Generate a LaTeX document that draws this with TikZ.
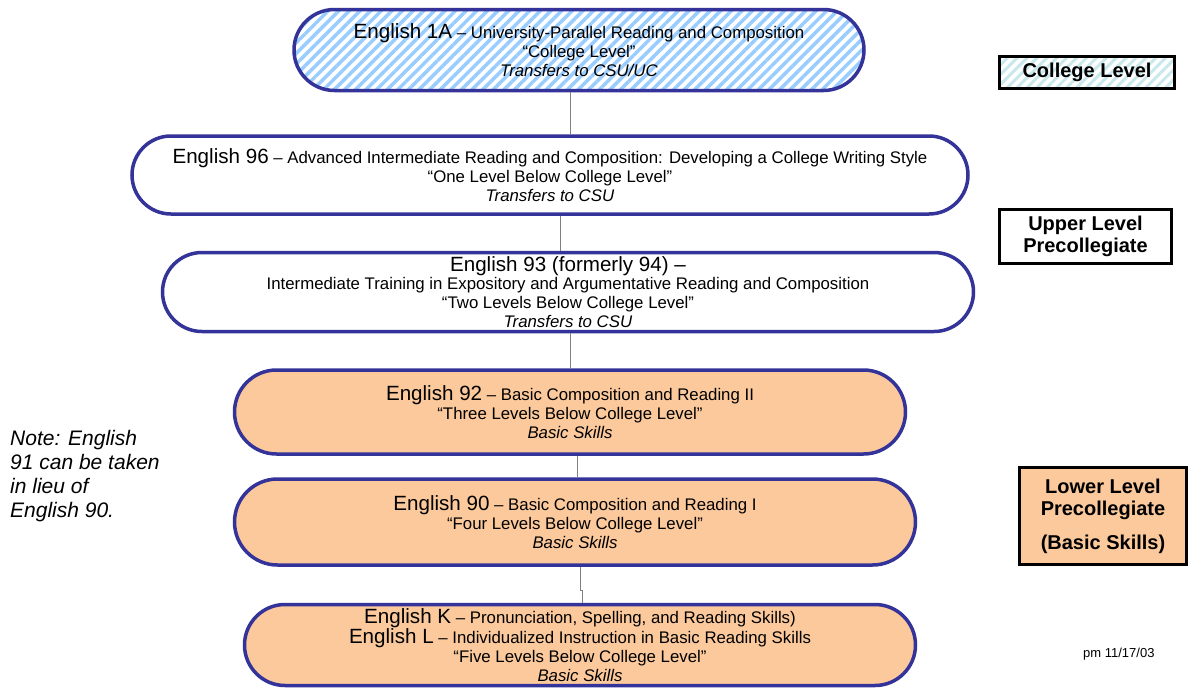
\documentclass[tikz,border=0pt]{standalone}
\usepackage{fontspec}
\setmainfont{Liberation Sans}
\usetikzlibrary{shapes.misc,patterns.meta}
\definecolor{navyline}{RGB}{51,51,153}
\definecolor{peach}{RGB}{251,201,156}
\definecolor{skyhatch}{RGB}{153,204,255}
\definecolor{palecyan}{RGB}{200,232,236}
\definecolor{linkgray}{RGB}{128,128,128}
\newcommand{\course}[1]{{\fontsize{20.6}{18.8}\selectfont #1}}

\begin{document}
\begin{tikzpicture}[x=1pt,y=-1pt,
    course/.style={rounded rectangle, draw=navyline, line width=3.5pt,
        align=center, inner sep=0pt, font=\fontsize{16.8}{18.8}\selectfont},
    basic/.style={course, fill=peach},
    level/.style={rectangle, draw=black, line width=3pt, align=center,
        inner sep=0pt, font=\fontsize{20}{22}\selectfont\bfseries},
    link/.style={draw=linkgray, line width=1pt}]
    \useasboundingbox (0,0) rectangle (1195,689);

    % Course ladder
    \node[course, pattern={Lines[angle=45,distance=7.5pt,line width=3.5pt]},
        pattern color=skyhatch, minimum width=570, minimum height=81]
        (e1a) at (579,50)
        {\course{English 1A} – University-Parallel Reading and Composition\\
         “College Level”\\\textit{Transfers to CSU/UC}};
    \node[course, minimum width=836, minimum height=78] (e96) at (550,175)
        {\course{English 96} – Advanced Intermediate Reading and Composition: Developing a College Writing Style\\
         “One Level Below College Level”\\\textit{Transfers to CSU}};
    \node[course, minimum width=811, minimum height=79] (e93) at (568,292)
        {\course{English 93 (formerly 94) –}\\
         Intermediate Training in Expository and Argumentative Reading and Composition\\
         “Two Levels Below College Level”\\\textit{Transfers to CSU}};
    \node[basic, minimum width=671, minimum height=84] (e92) at (570,412)
        {\course{English 92} – Basic Composition and Reading II\\
         “Three Levels Below College Level”\\\textit{Basic Skills}};
    \node[basic, minimum width=681, minimum height=86] (e90) at (575,522)
        {\course{English 90} – Basic Composition and Reading I\\
         “Four Levels Below College Level”\\\textit{Basic Skills}};
    \node[basic, minimum width=671, minimum height=81] (ekl) at (580,645)
        {\course{English K} – Pronunciation, Spelling, and Reading Skills)\\
         \course{English L} – Individualized Instruction in Basic Reading Skills\\
         “Five Levels Below College Level”\\\textit{Basic Skills}};

    % Connectors
    \draw[link] ([xshift=-9]e1a.south) -- ([xshift=-9]e1a.south |- e96.north);
    \draw[link] ([xshift=10]e96.south) -- ([xshift=10]e96.south |- e93.north);
    \draw[link] ([xshift=2]e93.south) -- ([xshift=2]e93.south |- e92.north);
    \draw[link] ([xshift=7]e92.south) -- ([xshift=7]e92.south |- e90.north);
    \draw[link] ([xshift=5]e90.south) -- ++(0,24) -- ++(2,0)
        -- ([xshift=2]ekl.north);

    % Level labels
    \node[level, pattern={Lines[angle=45,distance=7pt,line width=3pt]},
        pattern color=palecyan, minimum width=175, minimum height=32]
        (college) at (1087,72) {College Level};
    \node[level, minimum width=172, minimum height=54] (upper) at (1085.5,236.5)
        {Upper Level\\Precollegiate};
    \node[level, fill=peach, minimum width=167, minimum height=97] (lower) at (1103,516)
        {Lower Level\\Precollegiate\\[12pt](Basic Skills)};

    % Side notes
    \node[anchor=north west, align=left, inner sep=0pt,
        font=\fontsize{21}{24}\selectfont\itshape] (note) at (10,430)
        {Note: English\\91 can be taken\\in lieu of\\English 90.};
    \node[anchor=base west, inner sep=0pt, font=\fontsize{13}{15}\selectfont]
        (date) at (1083,657) {pm 11/17/03};
\end{tikzpicture}
\end{document}
